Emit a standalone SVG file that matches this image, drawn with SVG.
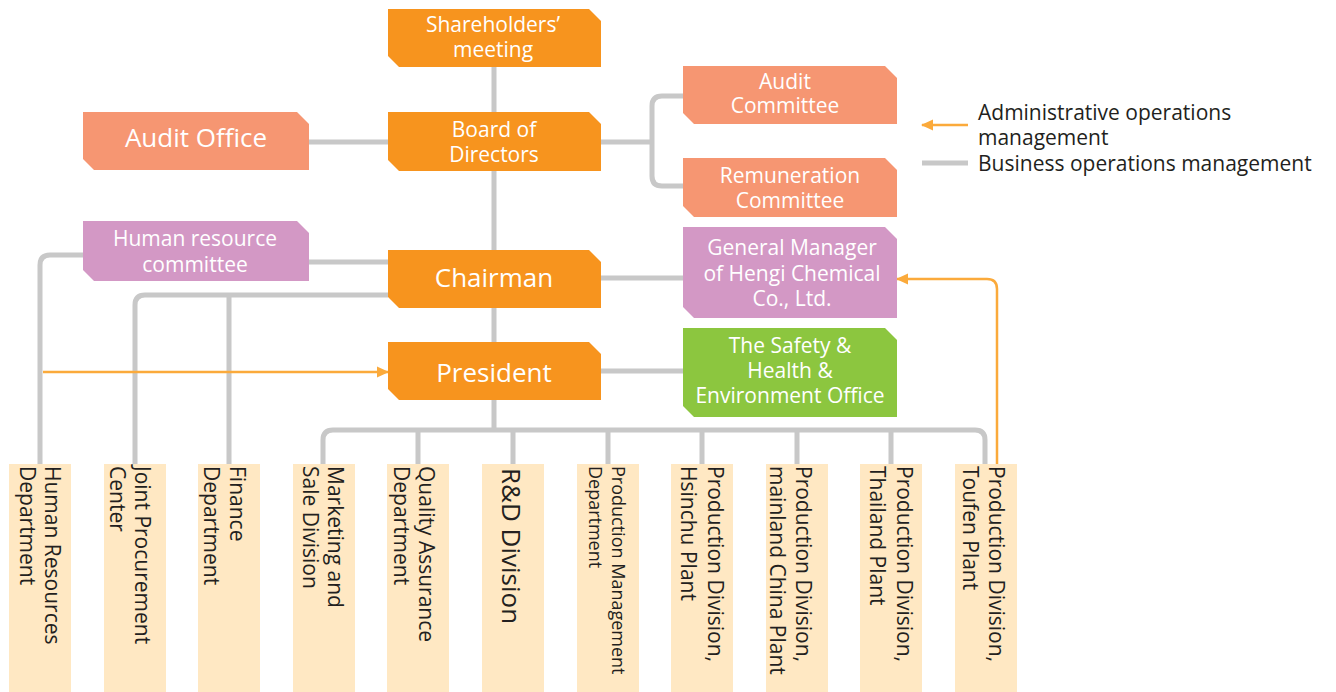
<svg xmlns="http://www.w3.org/2000/svg" width="1336" height="692" viewBox="0 0 1336 692">
<defs>
<style>
.t{font-family:"Open Sans","Noto Sans",sans-serif;font-size:21px;fill:#fff;text-anchor:middle}
.big{font-size:26px}
.v{font-family:"Open Sans","Noto Sans",sans-serif;font-size:21px;fill:#231F20}
.lg{font-family:"Open Sans","Noto Sans",sans-serif;font-size:21px;fill:#231F20}
.g{fill:none;stroke:#C8C8C8;stroke-width:5}
.o{fill:none;stroke:#FBAA3B;stroke-width:2.5}
.or{fill:#F7941E}.sa{fill:#F69672}.pu{fill:#D398C5}.gr{fill:#8CC63F}.tan{fill:#FFE8C3}
</style>
<marker id="ah" markerUnits="userSpaceOnUse" markerWidth="12" markerHeight="12" viewBox="0 0 12 12" refX="11" refY="6" orient="auto">
<path d="M0,0.5 L12,6 L0,11.5 Z" fill="#FBAA3B"/>
</marker>
</defs>
<rect width="1336" height="692" fill="#fff"/>
<g id="connectors">
<path class="g" d="M494 67 V430"/>
<path class="g" d="M309 142 H388"/>
<path class="g" d="M601 142 H652"/>
<path class="g" d="M683 96 H662 Q652 96 652 106 V176 Q652 186 662 186 H683"/>
<path class="g" d="M309 262 H388"/>
<path class="g" d="M83 255 H50 Q40 255 40 265 V464"/>
<path class="g" d="M388 295 H145 Q135 295 135 305 V464"/>
<path class="g" d="M229 295 V464"/>
<path class="g" d="M601 278 H683"/>
<path class="g" d="M601 371 H683"/>
<path class="g" d="M323 464 V440 Q323 430 333 430 H975 Q985 430 985 440 V464"/>
<path class="g" d="M418 430 V464 M513 430 V464 M608 430 V464 M702 430 V464 M797 430 V464 M891 430 V464"/>
<path class="o" d="M43 372 H388" marker-end="url(#ah)"/>
<path class="o" d="M997 464 V289 Q997 279 987 279 H897" marker-end="url(#ah)"/>
</g>
<g id="legend">
<path class="o" d="M968 125 H922" marker-end="url(#ah)"/>
<path class="g" d="M922 163 H968"/>
<text class="lg" x="978" y="120">Administrative operations</text>
<text class="lg" x="978" y="145">management</text>
<text class="lg" x="978" y="171">Business operations management</text>
</g>
<g id="shareholders">
<path class="or" d="M388 9 H589 L601 21 V67 H399 L388 56 Z"/>
<text class="t" x="493" y="32">Shareholders’</text>
<text class="t" x="493" y="57">meeting</text>
</g>
<g id="board">
<path class="or" d="M388 112 H589 L601 124 V171 H399 L388 160 Z"/>
<text class="t" x="494" y="137">Board of</text>
<text class="t" x="494" y="162">Directors</text>
</g>
<g id="audit-office">
<path class="sa" d="M83 112 H297 L309 124 V170 H94 L83 159 Z"/>
<text class="t big" x="196" y="147">Audit Office</text>
</g>
<g id="audit-committee">
<path class="sa" d="M683 66 H885 L897 78 V124 H694 L683 113 Z"/>
<text class="t" x="785" y="89">Audit</text>
<text class="t" x="785" y="113">Committee</text>
</g>
<g id="remuneration-committee">
<path class="sa" d="M683 158 H885 L897 170 V217 H694 L683 206 Z"/>
<text class="t" x="790" y="183">Remuneration</text>
<text class="t" x="790" y="208">Committee</text>
</g>
<g id="hr-committee">
<path class="pu" d="M83 221 H297 L309 233 V281 H94 L83 270 Z"/>
<text class="t" x="195" y="246">Human resource</text>
<text class="t" x="195" y="272">committee</text>
</g>
<g id="chairman">
<path class="or" d="M388 250 H589 L601 262 V308 H399 L388 297 Z"/>
<text class="t big" x="494" y="287">Chairman</text>
</g>
<g id="general-manager">
<path class="pu" d="M683 227 H885 L897 239 V318 H694 L683 307 Z"/>
<text class="t" x="792" y="255">General Manager</text>
<text class="t" x="792" y="281">of Hengi Chemical</text>
<text class="t" x="792" y="306">Co., Ltd.</text>
</g>
<g id="president">
<path class="or" d="M388 342 H589 L601 354 V400 H399 L388 389 Z"/>
<text class="t big" x="494" y="382">President</text>
</g>
<g id="safety-office">
<path class="gr" d="M683 328 H885 L897 340 V417 H694 L683 406 Z"/>
<text class="t" x="790" y="353">The Safety &amp;</text>
<text class="t" x="790" y="378">Health &amp;</text>
<text class="t" x="790" y="403">Environment Office</text>
</g>
<g id="hr-department">
<rect class="tan" x="9" y="464" width="62" height="228"/>
<text class="v" transform="translate(45,466) rotate(90)">Human Resources<tspan x="0" dy="25">Department</tspan></text>
</g>
<g id="joint-procurement">
<rect class="tan" x="104" y="464" width="62" height="228"/>
<text class="v" transform="translate(135,466) rotate(90)">Joint Procurement<tspan x="0" dy="25">Center</tspan></text>
</g>
<g id="finance">
<rect class="tan" x="198" y="464" width="62" height="228"/>
<text class="v" transform="translate(230,466) rotate(90)">Finance<tspan x="0" dy="26">Department</tspan></text>
</g>
<g id="marketing">
<rect class="tan" x="293" y="464" width="62" height="228"/>
<text class="v" transform="translate(328,466) rotate(90)">Marketing and<tspan x="0" dy="25">Sale Division</tspan></text>
</g>
<g id="quality">
<rect class="tan" x="387" y="464" width="62" height="228"/>
<text class="v" transform="translate(419,466) rotate(90)">Quality Assurance<tspan x="0" dy="25">Department</tspan></text>
</g>
<g id="rd">
<rect class="tan" x="482" y="464" width="62" height="228"/>
<text class="v" style="font-size:26px" transform="translate(502,468) rotate(90)">R&amp;D Division</text>
</g>
<g id="production-management">
<rect class="tan" x="577" y="464" width="62" height="228"/>
<text class="v" style="font-size:18px" transform="translate(612,466) rotate(90)">Production Management<tspan x="0" dy="23">Department</tspan></text>
</g>
<g id="hsinchu">
<rect class="tan" x="671" y="464" width="62" height="228"/>
<text class="v" transform="translate(708,466) rotate(90)">Production Division,<tspan x="0" dy="27">Hsinchu Plant</tspan></text>
</g>
<g id="china">
<rect class="tan" x="766" y="464" width="62" height="228"/>
<text class="v" transform="translate(796,466) rotate(90)">Production Division,<tspan x="0" dy="26">mainland China Plant</tspan></text>
</g>
<g id="thailand">
<rect class="tan" x="860" y="464" width="62" height="228"/>
<text class="v" transform="translate(897,466) rotate(90)">Production Division,<tspan x="0" dy="27">Thailand Plant</tspan></text>
</g>
<g id="toufen">
<rect class="tan" x="955" y="464" width="62" height="228"/>
<text class="v" transform="translate(989,466) rotate(90)">Production Division,<tspan x="0" dy="26">Toufen Plant</tspan></text>
</g>
</svg>
